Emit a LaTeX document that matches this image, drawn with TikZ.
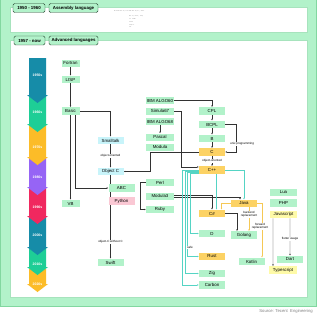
\documentclass[tikz,border=0pt]{standalone}
\usepackage{fontspec}
\setmainfont{Liberation Sans}
\setmonofont{Liberation Mono}
\usetikzlibrary{arrows.meta}

\definecolor{mint}{RGB}{178,242,202}
\definecolor{mintline}{RGB}{130,215,160}
\definecolor{skyfill}{RGB}{200,244,250}
\definecolor{rosefill}{RGB}{250,200,212}
\definecolor{sunfill}{RGB}{252,210,100}
\definecolor{lemonfill}{RGB}{254,250,168}
\definecolor{tabline}{RGB}{40,70,50}
\definecolor{arrowdark}{RGB}{50,50,50}
\definecolor{cppline}{RGB}{85,212,196}
\definecolor{javaline}{RGB}{245,200,85}
\definecolor{eraTeal}{RGB}{22,140,168}
\definecolor{eraGreen}{RGB}{30,206,150}
\definecolor{eraGold}{RGB}{252,188,40}
\definecolor{eraViolet}{RGB}{150,100,245}
\definecolor{eraRose}{RGB}{240,40,95}

\pgfdeclarelayer{panels}
\pgfdeclarelayer{links}
\pgfsetlayers{panels,links,main}

\begin{document}
\begin{tikzpicture}[x=1mm, y=-1mm,
	lang/.style={fill=mint, minimum width=26mm, minimum height=7.5mm, inner sep=0pt, font=\fontsize{12.5}{14}\selectfont},
	oop/.style={lang, fill=skyfill},
	hot/.style={lang, fill=sunfill},
	web/.style={lang, fill=lemonfill},
	tab/.style={fill=mint, draw=tabline, line width=1.4pt, rounded corners=1.5mm, minimum height=9mm, inner sep=0pt, font=\bfseries\fontsize{12.5}{14}\selectfont},
	conn/.style={draw=arrowdark, line width=0.45mm, -{Latex[length=1.8mm,width=1.5mm]}},
	conncpp/.style={conn, draw=cppline},
	connjava/.style={conn, draw=javaline},
	lbl/.style={fill=white, inner sep=0.5mm, align=center, font=\fontsize{8.5}{9.5}\selectfont}]
	\useasboundingbox (0,0) rectangle (320,320);

	% frame and the two panels
	\begin{pgfonlayer}{panels}
		\filldraw[fill=mint, draw=mintline, line width=0.6mm] (0,-2) rectangle (316,306);
		\filldraw[fill=white, draw=mintline!70, line width=0.8mm] (10,7) rectangle (307,32);
		\filldraw[fill=white, draw=mintline!70, line width=0.8mm] (10,40) rectangle (307,297);
	\end{pgfonlayer}
	\node[tab, minimum width=32mm] (tabA) at (29,8) {1950 - 1960};
	\node[tab, minimum width=49mm] (tabAsm) at (73.5,8) {Assembly language};
	\node[tab, minimum width=31mm] (tabB) at (29.5,40.5) {1957 - now};
	\node[tab, minimum width=49mm] (tabAdv) at (73.5,40.5) {Advanced languages};
	\node[anchor=west, text=gray!70!black, font=\ttfamily\fontsize{3.4}{4}\selectfont] (asmA) at (113,11.5) {db 0x2e  mov ax,1   int 80h   mov bx,cs   ; start};
	\node[anchor=north west, align=left, text=gray!70!black, font=\ttfamily\fontsize{3.4}{8}\selectfont] (asmB) at (128,14.5) {mov  cx, 0x10  ; loop\\L1:  lodsb\\     stosb\\     loop L1\\     ret};

	% timeline
	\foreach \ya/\yb/\yl/\col/\lab in {269/284/284/eraGold/2020s, 248/267/264/eraGreen/2010s, 217/247/235/eraTeal/2000s, 188/216/207/eraRose/1990s, 157/187/177/eraViolet/1980s, 124/157/147/eraGold/1970s, 95/124/112/eraGreen/1960s, 58/95/75/eraTeal/1950s} {
		\fill[\col] (29,\ya) -- (46,\ya) -- (46,\yb) -- (48,\yb) -- (37.5,\yb+8) -- (27,\yb) -- (29,\yb) -- cycle;
		\node[white, font=\bfseries\fontsize{10}{12}\selectfont] (era\lab) at (37.5,\yl) {\lab};
	}

	% languages
	\node[lang, minimum width=18mm] (fortran) at (70.5,63.5) {Fortran};
	\node[lang, minimum width=18mm] (lisp) at (70.5,79.5) {LISP};
	\node[lang, minimum width=18mm] (basic) at (70.5,111) {Basic};
	\node[lang, minimum width=18mm] (vb) at (70.5,203.5) {VB};
	\node[oop] (small) at (110.5,140.5) {Smalltalk};
	\node[oop] (objc) at (110.5,171.5) {Object C};
	\node[lang] (abc) at (121.5,188) {ABC};
	\node[lang, fill=rosefill] (python) at (121.5,201) {Python};
	\node[lang] (swift) at (110.5,262.5) {Swift};
	\node[lang, minimum width=28mm, minimum height=7mm] (algo60) at (160,100.5) {IBM ALGO60};
	\node[lang, minimum width=28mm, minimum height=7mm] (simula) at (160,111) {Simula67};
	\node[lang, minimum width=28mm, minimum height=7mm] (algo68) at (160,121.5) {IBM ALGO68};
	\node[lang, minimum width=28mm, minimum height=7mm] (pascal) at (160,137) {Pascal};
	\node[lang, minimum width=28mm, minimum height=7mm] (modula) at (160,147) {Modula};
	\node[lang, minimum width=28mm, minimum height=7mm] (perl) at (160,182.5) {Perl};
	\node[lang, minimum width=28mm, minimum height=7mm] (modula3) at (160,196) {Modula3};
	\node[lang, minimum width=28mm, minimum height=7mm] (ruby) at (160,209.5) {Ruby};
	\node[lang] (cpl) at (212,111) {CPL};
	\node[lang] (bcpl) at (212,124.5) {BCPL};
	\node[lang] (b) at (212,138.5) {B};
	\node[hot] (c) at (212,152) {C};
	\node[hot] (cpp) at (212,170) {C++};
	\node[hot] (csharp) at (212,213.5) {C\#};
	\node[lang] (d) at (212,233.5) {D};
	\node[hot] (rust) at (212,256.5) {Rust};
	\node[lang] (zig) at (212,273.5) {Zig};
	\node[lang] (carbon) at (212,285) {Carbon};
	\node[hot] (java) at (244,203.5) {Java};
	\node[lang] (golang) at (244,235) {Golang};
	\node[lang] (kotlin) at (251.5,261.5) {Kotlin};
	\node[lang, minimum width=27mm] (lua) at (283.5,192.5) {Lua};
	\node[lang, minimum width=27mm] (php) at (283.5,203) {PHP};
	\node[web, minimum width=27mm] (js) at (283.5,214.5) {Javascript};
	\node[lang] (dart) at (290,259.5) {Dart};
	\node[web, minimum width=28mm] (ts) at (283,270) {Typescript};
	\node[anchor=east, text=gray, font=\fontsize{12}{14}\selectfont] (source) at (314,311) {Source: Tecent~ Engineering};

	\begin{pgfonlayer}{links}
		\draw[conn] (fortran) -- (lisp);
		\draw[conn] (lisp) -- (basic);
		\draw[conn] (basic.east) -| (small.north);
		\draw[conn] (basic.south) -- (vb.north);
		\draw[conn] ([xshift=5mm]basic.south) |- (abc.west);
		\draw[conn] (small) -- node[lbl] {object-oriented} (objc);
		\draw[conn] (objc.south) -- node[lbl, pos=0.8] {object-C without C} (swift.north);
		\draw[conn] (c.west) -- ++(-49,0) |- (objc.east);
		\draw[conn] (algo60.east) -| (cpl.north);
		\draw[conn] (simula.east) -- ++(7,0) |- (cpp.167);
		\draw[conn] (algo68) -- (pascal);
		\draw[conn] (perl.west) -- ++(-6,0) |- (ruby.west);
		\draw[conn] (cpl) -- (bcpl);
		\draw[conn] (bcpl) -- (b);
		\draw[conn] (b) -- (c);
		\draw[conn] (bcpl.east) -- ++(11,0) |- node[lbl, pos=0.35, xshift=6mm] {unix programming} (c.east);
		\draw[conn] (c) -- node[lbl] {object-oriented} (cpp);
		\draw[conn] (modula3.5) -| (csharp.north);
		\draw[conn] (modula3.-6) -| ([xshift=-4mm]java.north);
		\draw[conn] (csharp.east) -| ([xshift=-7mm]golang.north);
		\draw[conn] ([xshift=-10.5mm]js.south) -- ([xshift=-10mm]ts.north);
		\draw[conn] ([xshift=6.5mm]js.south) -- node[lbl, pos=0.55] {flutter usage} (dart.north);
		% C++ family
		\draw[conncpp] (cpp.182) -- ++(-16.5,0) |- (carbon.west);
		\draw[conncpp] (cpp.185) -- ++(-14,0) |- (zig.west);
		\draw[conncpp] (cpp.189) -- ++(-11.5,0) |- node[lbl, pos=0.445, xshift=2.5mm] {safe} (rust.west);
		\draw[conncpp] (cpp.193) -- ++(-9,0) |- (d.west);
		\draw[conncpp] ([xshift=4.5mm]cpp.south) -- ([xshift=4.5mm]csharp.north);
		\draw[conncpp] (cpp.east) -| (java.north);
		% Java family
		\draw[connjava] (java.west) -| ([xshift=9.5mm]csharp.north);
		\draw[connjava] ([xshift=5mm]java.south) -- node[lbl, pos=0.29] {backend\\replacement} ([xshift=5mm]golang.north);
		\draw[connjava] (java.east) -| node[lbl, pos=0.71, xshift=-2mm] {forward\\replacement} ([xshift=10.5mm]kotlin.north);
	\end{pgfonlayer}
\end{tikzpicture}
\end{document}
